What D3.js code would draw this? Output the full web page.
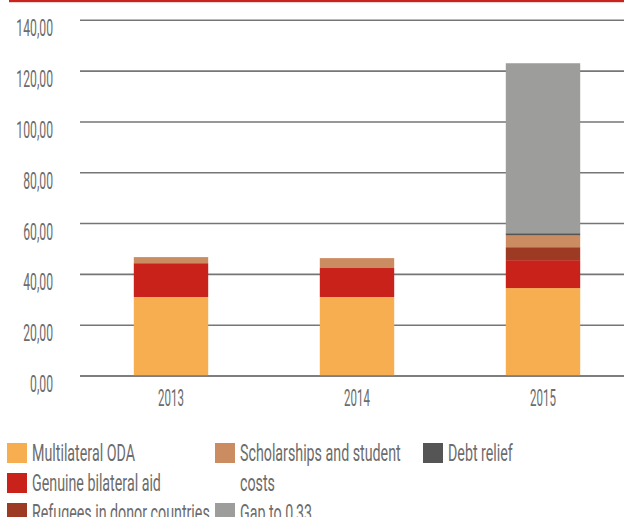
<!DOCTYPE html>
<head>
<meta charset="utf-8">
<script src="https://d3js.org/d3.v7.min.js"></script>
<style>
body {
	margin: 0;
	background: #fff;
}
.grid line {
	stroke: #767676;
	stroke-width: 1.6px;
}
.lbl {
	font-family: Roboto, "Liberation Sans", sans-serif;
	fill: #6c6c6c;
}
</style>
</head>
<body>
<svg id="chart" width="624" height="517"></svg>

<script>

// data
var years = ["2013", "2014", "2015"];
var series = ["Multilateral ODA", "Genuine bilateral aid", "Refugees in donor countries",
	"Scholarships and student costs", "Debt relief", "Gap to 0,33"];
var multilateral = [31.1, 31.1, 34.6];
var bilateral = [13.3, 11.4, 11.0];
var refugees = [0, 0, 5.1];
var scholarships = [2.4, 3.9, 4.6];
var debt = [0, 0, 0.9];
var gap = [0, 0, 66.9];
var yTicks = [0, 20, 40, 60, 80, 100, 120, 140];
var colors = ["#f6ae50", "#c9221a", "#9c3a24", "#cc8c62", "#555555", "#9d9d9b"];
// legend columns (indices into series)
var legendCols = [[0, 1, 2], [3, 5], [4]];

var svg = d3.select("#chart");

var table = years.map((yr, i) => ({
	year: yr,
	"Multilateral ODA": multilateral[i],
	"Genuine bilateral aid": bilateral[i],
	"Refugees in donor countries": refugees[i],
	"Scholarships and student costs": scholarships[i],
	"Debt relief": debt[i],
	"Gap to 0,33": gap[i]
}));

var x = d3.scaleBand()
	.domain(years)
	.range([78, 636])
	.paddingInner(0.6)
	.paddingOuter(0.3);

var y = d3.scaleLinear()
	.domain([0, 140])
	.range([376, 20.3]);

var z = d3.scaleOrdinal().domain(series).range(colors);

// red rule on top
svg.append("rect")
	.attr("x", 9).attr("y", 0)
	.attr("width", 615).attr("height", 2.2)
	.attr("fill", "#c8231c");

// gridlines
svg.append("g").attr("class", "grid")
	.selectAll("line")
	.data(yTicks)
	.join("line")
	.attr("x1", 80).attr("x2", 624)
	.attr("y1", d => y(d)).attr("y2", d => y(d));

// y labels
var fmt = d => d3.format(".2f")(d).replace(".", ",");
svg.append("g")
	.selectAll("g")
	.data(yTicks)
	.join("g")
	.attr("transform", d => "translate(53," + (y(d) + 16) + ") scale(0.53,1)")
	.append("text")
	.attr("class", "lbl")
	.attr("text-anchor", "end")
	.attr("font-size", 23)
	.text(fmt);

// stacked bars
var stack = d3.stack().keys(series)(table);

svg.append("g")
	.selectAll("g")
	.data(stack)
	.join("g")
	.attr("fill", d => z(d.key))
	.selectAll("rect")
	.data(d => d.filter(s => s[1] - s[0] > 0))
	.join("rect")
	.attr("x", d => x(d.data.year))
	.attr("width", x.bandwidth())
	.attr("y", d => y(d[1]))
	.attr("height", d => y(d[0]) - y(d[1]));

// baseline over the bars
svg.append("line")
	.attr("x1", 80).attr("x2", 624)
	.attr("y1", y(0)).attr("y2", y(0))
	.attr("stroke", "#767676")
	.attr("stroke-width", 1.6);

// x labels
svg.append("g")
	.selectAll("g")
	.data(years)
	.join("g")
	.attr("transform", d => "translate(" + (x(d) + x.bandwidth() / 2) + ",406) scale(0.5,1)")
	.append("text")
	.attr("class", "lbl")
	.attr("text-anchor", "middle")
	.attr("font-size", 23)
	.text(d => d);

// legend
var sx = 0.62, maxW = 184;
legendCols.forEach(function(col, ci) {
	var row = 0;
	col.forEach(function(si) {
		var lx = 7 + ci * 208, ly = 443 + row * 30;
		svg.append("rect")
			.attr("x", lx).attr("y", ly)
			.attr("width", 20).attr("height", 20)
			.attr("fill", colors[si]);
		var t = svg.append("g")
			.attr("transform", "translate(" + (lx + 25) + "," + (ly + 18) + ") scale(" + sx + ",1)")
			.append("text")
			.attr("class", "lbl")
			.attr("font-size", 23);
		// simple word wrap
		var words = series[si].split(" "), line = [], n = 0;
		var ts = t.append("tspan").attr("x", 0).attr("dy", 0);
		words.forEach(function(w) {
			line.push(w);
			ts.text(line.join(" "));
			if (ts.node().getComputedTextLength() * sx > maxW && line.length > 1) {
				line.pop();
				ts.text(line.join(" "));
				line = [w];
				n++;
				ts = t.append("tspan").attr("x", 0).attr("dy", 30).text(w);
			}
		});
		row += n + 1;
	});
});

</script>
</body>
